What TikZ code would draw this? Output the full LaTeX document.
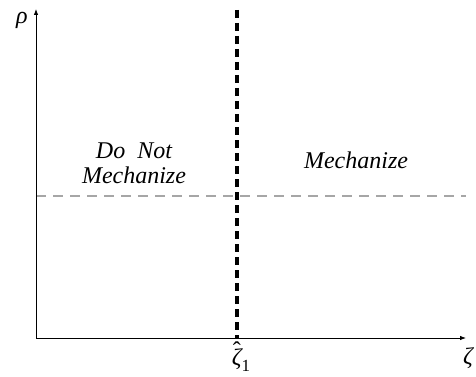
\documentclass[tikz,border=0pt]{standalone}
\usepackage{fontspec}
\setmainfont{Liberation Serif}
\usetikzlibrary{arrows.meta}
\begin{document}
\begin{tikzpicture}[x=1pt,y=-1pt,
  axis/.style={line width=0.8pt,-{Latex[length=6pt,width=4.5pt]}},
  lbl/.style={font=\fontsize{24}{25}\selectfont\itshape,align=center,inner sep=0pt},
  symb/.style={font=\fontsize{24}{26}\selectfont\itshape,inner sep=0pt}]
\useasboundingbox (0,0) rectangle (476,377);
\coordinate (O) at (36,338);
\coordinate (Ytop) at (36,9);
\coordinate (Xend) at (466,338);
\coordinate (Vtop) at (237,10);
\coordinate (Vbot) at (237,338);
\coordinate (Hl) at (36,196);
\coordinate (Hr) at (466,196);
\draw[gray!70,line width=1.2pt,dash pattern=on 10pt off 7pt] (Hl) -- (Hr);
\draw[line width=3.6pt,dash pattern=on 8pt off 5pt] (Vtop) -- (Vbot);
\draw[axis] (O) -- (Ytop);
\draw[axis] (O) -- (Xend);
\node[symb] (rho) at (22,20) {ρ};
\node[symb] (zeta) at (468,358) {ζ};
\node[symb,anchor=center] (zh) at (241,360) {\hbox{\ooalign{ζ\cr\hidewidth\raisebox{0.28em}{\upshape ˆ}\hidewidth\cr}}\raisebox{-0.28em}{\upshape\fontsize{17}{18}\selectfont 1}};
\node[lbl] (dnm) at (134,163) {Do\ \ Not\\Mechanize};
\node[lbl] (m) at (356,160) {Mechanize};
\end{tikzpicture}
\end{document}
